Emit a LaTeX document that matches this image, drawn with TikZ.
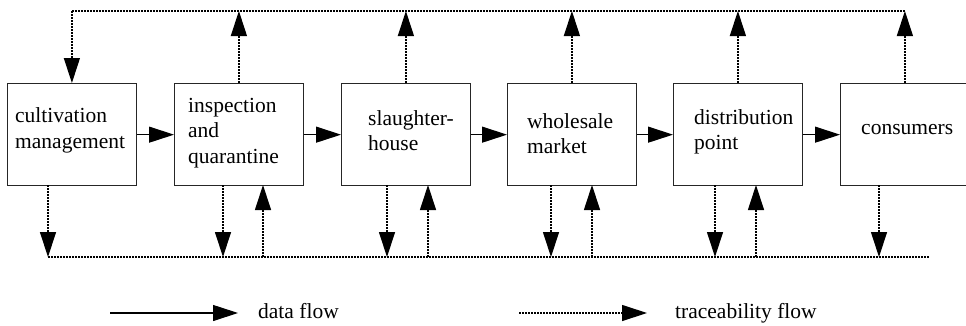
\documentclass[tikz,border=0pt]{standalone}
\usepackage{fontspec}
\setmainfont{Liberation Serif}
\usetikzlibrary{arrows.meta}
\tikzset{
  stagebox/.style={draw=black!85, line width=1.3pt, minimum width=128.5pt, minimum height=102pt, inner sep=0pt, anchor=north west},
  boxtext/.style={anchor=base west, inner sep=0pt, font=\fontsize{21.5}{26}\selectfont},
  dataflow/.style={line width=1.1pt, -{Triangle[length=25pt,width=16pt]}},
  traceflow/.style={line width=1.2pt, dash pattern=on 1.6pt off 1.4pt, -{Triangle[length=25pt,width=16pt]}},
  traceline/.style={line width=1.2pt, dash pattern=on 1.6pt off 1.4pt},
}
\begin{document}
\begin{tikzpicture}[x=1pt,y=-1pt]
\useasboundingbox (0,0) rectangle (966,325);
% boxes
\node[stagebox] (b1) at (7,83) {};
\node[stagebox] (b2) at (174,83) {};
\node[stagebox] (b3) at (341,83) {};
\node[stagebox] (b4) at (507,83) {};
\node[stagebox] (b5) at (673,83) {};
\node[stagebox] (b6) at (840,83) {};
% texts
\node[boxtext] (t1a) at (15,122) {cultivation};
\node[boxtext] (t1b) at (15,148) {management};
\node[boxtext] (t2a) at (188,112) {inspection};
\node[boxtext] (t2b) at (188,137) {and};
\node[boxtext] (t2c) at (188,163) {quarantine};
\node[boxtext] (t3a) at (368,125) {slaughter-};
\node[boxtext] (t3b) at (368,150) {house};
\node[boxtext] (t4a) at (527,128) {wholesale};
\node[boxtext] (t4b) at (527,153) {market};
\node[boxtext] (t5a) at (694,124) {distribution};
\node[boxtext] (t5b) at (694,149) {point};
\node[boxtext] (t6a) at (861,134) {consumers};
% data flow arrows
\draw[dataflow] (b1.east) -- (b2.west);
\draw[dataflow] (b2.east) -- (b3.west);
\draw[dataflow] (b3.east) -- (b4.west);
\draw[dataflow] (b4.east) -- (b5.west);
\draw[dataflow] (b5.east) -- (b6.west);
% top traceability line
\coordinate (tl) at (b1.north |- 0,11);
\coordinate (tr) at (b6.north |- 0,11);
\coordinate (t2) at (b2.north |- 0,11);
\coordinate (t3) at (b3.north |- 0,11);
\coordinate (t4) at (b4.north |- 0,11);
\coordinate (t5) at (b5.north |- 0,11);
\draw[traceline] (tl) -- (tr);
\draw[traceflow] (tl) -- (b1.north);
\draw[traceflow] (b2.north) -- (t2);
\draw[traceflow] (b3.north) -- (t3);
\draw[traceflow] (b4.north) -- (t4);
\draw[traceflow] (b5.north) -- (t5);
\draw[traceflow] (b6.north) -- (tr);
% bottom traceability line
\coordinate (d1t) at (48,185);  \coordinate (d1b) at (48,257);
\coordinate (d2t) at (223,185); \coordinate (d2b) at (223,257);
\coordinate (u2t) at (263,185); \coordinate (u2b) at (263,257);
\coordinate (d3t) at (387,185); \coordinate (d3b) at (387,257);
\coordinate (u3t) at (428,185); \coordinate (u3b) at (428,257);
\coordinate (d4t) at (551,185); \coordinate (d4b) at (551,257);
\coordinate (u4t) at (592,185); \coordinate (u4b) at (592,257);
\coordinate (d5t) at (715,185); \coordinate (d5b) at (715,257);
\coordinate (u5t) at (756,185); \coordinate (u5b) at (756,257);
\coordinate (d6t) at (879,185); \coordinate (d6b) at (879,257);
\coordinate (br) at (929,257);
\draw[traceline] (d1b) -- (br);
\draw[traceflow] (d1t) -- (d1b);
\draw[traceflow] (d2t) -- (d2b);
\draw[traceflow] (u2b) -- (u2t);
\draw[traceflow] (d3t) -- (d3b);
\draw[traceflow] (u3b) -- (u3t);
\draw[traceflow] (d4t) -- (d4b);
\draw[traceflow] (u4b) -- (u4t);
\draw[traceflow] (d5t) -- (d5b);
\draw[traceflow] (u5b) -- (u5t);
\draw[traceflow] (d6t) -- (d6b);
% legend
\coordinate (l1s) at (110,313); \coordinate (l1e) at (238,313);
\coordinate (l2s) at (519,313); \coordinate (l2e) at (647,313);
\draw[dataflow] (l1s) -- (l1e);
\draw[traceflow] (l2s) -- (l2e);
\node[boxtext] (lg1) at (258,318) {data flow};
\node[boxtext] (lg2) at (675,318) {traceability flow};
\end{tikzpicture}
\end{document}
